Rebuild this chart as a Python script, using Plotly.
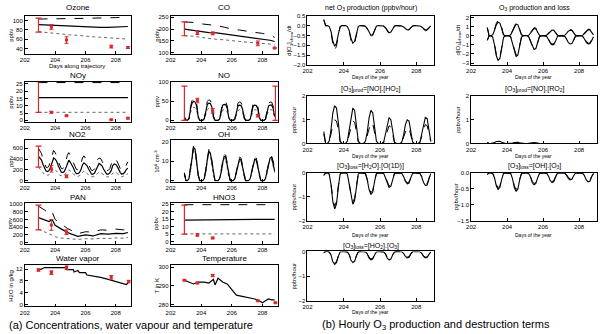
import numpy as np
import plotly.graph_objects as go

W, H = 603, 334
RED = "#d9262b"
GREY = "#666666"

# ---------------- data: concentrations (a) ----------------
t_smooth = [202.9, 203.5, 204.0, 204.5, 205.0, 205.5, 206.0, 206.5, 207.0, 207.5, 208.0, 208.5, 208.8]
o3_mid = [91, 90, 89, 88, 87, 86, 85.5, 85, 85, 85, 85.5, 86, 87]
o3_hi = [103, 103, 103, 103.5, 104, 104, 104.5, 105, 105, 105.5, 106, 107, 108]
o3_lo = [76, 74, 71, 70, 69, 68, 66, 65, 64, 63, 62, 61, 60]
co_mid = [200, 195, 188, 185, 184, 180, 174, 170, 165, 162, 158, 153, 148]
co_hi = [230, 228, 222, 220, 215, 208, 200, 196, 190, 186, 182, 175, 165]
co_lo = [172, 170, 165, 160, 157, 155, 150, 148, 145, 142, 140, 137, 132]
noy_mid = [15.5] * 13
noy_hi = [25.8] * 13
noy_lo = [5.5] * 13
hno3_mid = [14.5, 14.6, 14.6, 14.7, 14.7, 14.8, 14.8, 14.9, 14.9, 15.0, 15.0, 15.0, 15.0]
hno3_hi = [24.8] * 13
hno3_lo = [5.2] * 13

t_pan = [202.9, 203.3, 203.6, 203.8, 204.0, 204.5, 204.8, 205.0, 205.5, 206.0, 206.5, 207.0, 207.5, 208.0, 208.5, 208.8]
pan_mid = [650, 600, 550, 600, 450, 330, 260, 230, 160, 200, 170, 230, 220, 240, 230, 260]
pan_hi = [950, 850, 750, 800, 600, 450, 370, 330, 230, 280, 270, 330, 320, 350, 330, 380]
pan_lo = [350, 280, 220, 200, 150, 110, 100, 100, 80, 100, 90, 110, 100, 120, 110, 130]

t_h2o = [202.9, 203.1, 203.3, 204.7, 204.75, 205.2, 205.25, 205.5, 205.6, 206.0, 206.1, 206.5, 207.0, 207.5, 208.0, 208.5, 208.7, 208.85]
h2o = [11.8, 12.0, 12.5, 12.5, 11.8, 11.8, 11.0, 11.5, 10.8, 10.8, 10.0, 9.7, 9.2, 8.5, 7.8, 7.0, 6.8, 7.5]

t_temp = [202.9, 203.2, 203.5, 203.8, 204.2, 204.5, 204.8, 204.9, 205.1, 205.4, 205.7, 206.0, 206.3, 206.6,
          207.0, 207.5, 207.8, 208.0, 208.2, 208.4, 208.6, 208.8]
temp = [293, 292, 291, 292, 292, 291.5, 293.5, 290.5, 294, 292, 291, 288, 285, 284.5,
        284, 283, 282, 281, 282, 283, 282.5, 282.5]

# diurnal series, sampled every 0.1 day from 202.9 to 208.8
t_d = list(np.round(np.arange(202.9, 208.85, 0.1), 2))
oh_mid = [3.5,
          0, 0, 1, 6, 13, 17, 16, 10, 3, 0,
          0, 0, 1, 5, 11, 15, 14, 9, 3, 0,
          0, 0, 1, 4, 9, 12.5, 12, 8, 2.5, 0,
          0, 0, 1, 4, 8, 11, 10.5, 7, 2, 0,
          0, 0, 1, 4, 8, 11, 10.5, 7, 2, 0,
          0, 0, 1, 4, 8.5, 11.5, 12, 9, 5]
oh_hi = [4,
         0, 0, 1, 7, 14, 18, 17, 11, 3, 0,
         0, 0, 1, 6, 12, 16, 15, 10, 3, 0,
         0, 0, 1, 5, 10, 13.5, 13, 9, 3, 0,
         0, 0, 1, 5, 9, 12, 11.5, 8, 2.5, 0,
         0, 0, 1, 5, 9, 12, 11.5, 8, 2.5, 0,
         0, 0, 1, 5, 9.5, 12.5, 12.5, 10, 6]
oh_lo = [3,
         0, 0, 1, 5, 12, 16, 15, 9, 2.5, 0,
         0, 0, 1, 4.5, 10, 14, 13, 8, 2.5, 0,
         0, 0, 1, 3.5, 8, 11.5, 11, 7, 2, 0,
         0, 0, 1, 3.5, 7.5, 10, 10, 6.5, 2, 0,
         0, 0, 1, 3.5, 7.5, 10, 10, 6.5, 2, 0,
         0, 0, 1, 3.5, 8, 11, 11, 8, 4]
no_mid = [8,
          0, 0, 4, 30, 45, 50, 48, 38, 10, 0,
          0, 0, 4, 28, 42, 45, 44, 34, 9, 0,
          0, 0, 3, 26, 40, 42, 41, 32, 8, 0,
          0, 0, 3, 25, 38, 40, 39, 30, 8, 0,
          0, 0, 3, 25, 38, 40, 39, 30, 8, 0,
          0, 0, 3, 25, 38, 40, 40, 32, 10]
no_hi = [10,
         0, 0, 5, 36, 52, 58, 56, 44, 12, 0,
         0, 0, 5, 34, 50, 54, 52, 40, 11, 0,
         0, 0, 4, 32, 47, 50, 49, 38, 10, 0,
         0, 0, 4, 30, 45, 48, 47, 36, 10, 0,
         0, 0, 4, 30, 45, 48, 47, 36, 10, 0,
         0, 0, 4, 30, 45, 48, 48, 38, 12]
no_lo = [5,
         0, 0, 3, 20, 30, 34, 33, 26, 7, 0,
         0, 0, 3, 19, 28, 31, 30, 23, 6, 0,
         0, 0, 2, 18, 26, 29, 28, 22, 6, 0,
         0, 0, 2, 17, 25, 28, 27, 21, 5, 0,
         0, 0, 2, 17, 25, 28, 27, 21, 5, 0,
         0, 0, 2, 17, 25, 28, 28, 22, 7]
no2_mid = [450,
           420, 380, 300, 220, 180, 170, 190, 250, 350, 420,
           400, 360, 280, 200, 160, 150, 170, 230, 320, 380,
           340, 300, 240, 170, 130, 130, 150, 200, 290, 330,
           310, 280, 220, 160, 120, 120, 140, 200, 280, 320,
           300, 270, 210, 150, 120, 120, 140, 190, 280, 310,
           300, 260, 200, 150, 120, 130, 160, 210, 230]
no2_hi = [600,
          550, 500, 400, 300, 250, 240, 280, 380, 500, 560,
          520, 460, 360, 280, 230, 220, 260, 350, 470, 520,
          460, 400, 320, 250, 210, 200, 230, 310, 420, 460,
          420, 370, 300, 230, 190, 190, 220, 290, 390, 420,
          410, 360, 290, 220, 190, 190, 220, 290, 390, 410,
          400, 350, 280, 220, 190, 200, 240, 300, 350]
no2_lo = [250,
          220, 200, 150, 110, 100, 100, 110, 150, 200, 220,
          200, 180, 140, 100, 90, 90, 100, 140, 180, 200,
          180, 160, 120, 90, 80, 80, 90, 120, 160, 180,
          160, 140, 110, 80, 70, 70, 80, 110, 150, 160,
          150, 130, 100, 80, 70, 70, 80, 100, 140, 150,
          150, 130, 100, 80, 70, 80, 90, 110, 130]

# observations (red)
obs_t = [203.75, 204.75, 207.7, 208.8]
o3_obs = [86, 58, 44, 42]; o3_err = [5, 7, 3, 2]
co_obs = [185, 182, 140, 120]; co_err = [8, 6, 10, 2]
noy_obs = [5.5, 3.2, 0.5, 1.5]; noy_err = [0.6, 0.4, 0.3, 0.5]
no_obs_t = [203.75, 204.75, 207.7]; no_obs = [52, 25, 12]; no_err = [6, 6, 3]
no2_obs_t = [203.75, 204.75]; no2_obs = [220, 80]; no2_err = [60, 25]
pan_obs_t = [203.75, 204.75]; pan_obs = [460, 270]; pan_err = [140, 60]
hno3_obs_t = [203.75, 204.75]; hno3_obs = [4.5, 2.5]; hno3_err = [0.8, 0.5]
h2o_obs_t = [202.9, 203.75, 204.75, 207.7, 208.85]; h2o_obs = [11.7, 10.8, 12.5, 9.2, 7.8]; h2o_err = [0.4, 0.6, 0.6, 0.6, 0.4]
temp_obs_t = [202.9, 203.75, 204.75, 207.7, 208.85]; temp_obs = [293, 291.5, 295.5, 282, 281]; temp_err = [0.3, 0.4, 0.6, 0.3, 0.3]
# initial (and final) ranges: (day, low, high)
o3_init = (202.9, 75, 105)
co_init = (202.9, 172, 230)
noy_init = (202.9, 5.5, 26.4)
no_init = [(202.9, 0, 90), (208.85, 0, 90)]
no2_init = (202.9, 250, 640)
pan_init = (202.9, 330, 980)
hno3_init = (202.9, 5, 24.5)

# ---------------- data: production / loss (b) ----------------
net_mid = [0.3,
           0, 0, -0.05, -0.3, -0.8, -1.05, -0.9, -0.45, -0.05, 0,
           0, 0, -0.05, -0.25, -0.65, -0.9, -0.8, -0.4, -0.05, 0,
           0, 0, -0.03, -0.15, -0.35, -0.5, -0.45, -0.2, -0.03, 0,
           0, 0, -0.02, -0.1, -0.25, -0.37, -0.33, -0.15, -0.02, 0,
           0, 0, -0.02, -0.07, -0.15, -0.22, -0.2, -0.1, -0.02, 0,
           0, 0, -0.02, -0.07, -0.15, -0.22, -0.2, -0.1, -0.02]
net_dash = [0.3,
            0, 0, -0.06, -0.35, -0.95, -1.25, -1.05, -0.5, -0.06, 0,
            0, 0, -0.06, -0.3, -0.75, -1.0, -0.9, -0.45, -0.05, 0,
            0, 0, -0.04, -0.18, -0.4, -0.58, -0.5, -0.22, -0.03, 0,
            0, 0, -0.02, -0.12, -0.28, -0.42, -0.37, -0.17, -0.02, 0,
            0, 0, -0.02, -0.08, -0.18, -0.26, -0.23, -0.11, -0.02, 0,
            0, 0, -0.02, -0.08, -0.18, -0.27, -0.24, -0.12, -0.02]
prod_mid = [0.9,
            0, 0, 0.1, 0.6, 1.2, 1.5, 1.4, 0.8, 0.1, 0,
            0, 0, 0.1, 0.5, 1.0, 1.3, 1.2, 0.7, 0.1, 0,
            0, 0, 0.05, 0.3, 0.6, 0.8, 0.75, 0.4, 0.05, 0,
            0, 0, 0.05, 0.25, 0.5, 0.62, 0.6, 0.35, 0.05, 0,
            0, 0, 0.05, 0.25, 0.5, 0.6, 0.58, 0.33, 0.05, 0,
            0, 0, 0.05, 0.25, 0.5, 0.65, 0.65, 0.4, 0.1]
prod_dash = [0.9,
             0, 0, 0.1, 0.7, 1.35, 1.7, 1.55, 0.9, 0.1, 0,
             0, 0, 0.1, 0.6, 1.15, 1.45, 1.35, 0.8, 0.1, 0,
             0, 0, 0.05, 0.35, 0.7, 0.9, 0.85, 0.45, 0.05, 0,
             0, 0, 0.05, 0.3, 0.55, 0.7, 0.68, 0.4, 0.05, 0,
             0, 0, 0.05, 0.3, 0.55, 0.68, 0.65, 0.38, 0.05, 0,
             0, 0, 0.05, 0.3, 0.55, 0.72, 0.72, 0.45, 0.1]
loss_mid = [-0.5,
            0, 0, -0.15, -1.0, -2.2, -2.7, -2.5, -1.4, -0.2, 0,
            0, 0, -0.12, -0.9, -1.8, -2.3, -2.1, -1.2, -0.15, 0,
            0, 0, -0.1, -0.6, -1.2, -1.5, -1.4, -0.8, -0.1, 0,
            0, 0, -0.07, -0.4, -0.8, -1.0, -0.95, -0.55, -0.07, 0,
            0, 0, -0.06, -0.35, -0.72, -0.9, -0.85, -0.5, -0.06, 0,
            0, 0, -0.06, -0.35, -0.72, -0.9, -0.88, -0.55, -0.1]
loss_dash = [-0.5,
             0, 0, -0.13, -0.9, -2.0, -2.5, -2.3, -1.3, -0.18, 0,
             0, 0, -0.11, -0.8, -1.65, -2.1, -1.95, -1.1, -0.14, 0,
             0, 0, -0.09, -0.55, -1.1, -1.35, -1.28, -0.72, -0.09, 0,
             0, 0, -0.06, -0.36, -0.72, -0.9, -0.86, -0.5, -0.06, 0,
             0, 0, -0.05, -0.32, -0.65, -0.8, -0.77, -0.45, -0.05, 0,
             0, 0, -0.05, -0.32, -0.65, -0.82, -0.8, -0.5, -0.09]
ho2p_mid = [0.5,
            0, 0, 0.1, 0.6, 1.3, 1.6, 1.5, 0.9, 0.1, 0,
            0, 0, 0.1, 0.6, 1.2, 1.5, 1.4, 0.8, 0.1, 0,
            0, 0, 0.1, 0.5, 1.1, 1.4, 1.3, 0.7, 0.1, 0,
            0, 0, 0.05, 0.4, 0.85, 1.1, 1.0, 0.55, 0.05, 0,
            0, 0, 0.05, 0.35, 0.8, 1.0, 0.95, 0.5, 0.05, 0,
            0, 0, 0.05, 0.4, 0.85, 1.1, 1.05, 0.6, 0.1]
ho2p_dash = [0.4,
             0, 0, 0.08, 0.4, 0.8, 1.0, 0.95, 0.6, 0.08, 0,
             0, 0, 0.08, 0.4, 0.75, 0.95, 0.9, 0.55, 0.08, 0,
             0, 0, 0.07, 0.35, 0.7, 0.9, 0.85, 0.5, 0.07, 0,
             0, 0, 0.04, 0.3, 0.6, 0.75, 0.7, 0.4, 0.04, 0,
             0, 0, 0.04, 0.25, 0.55, 0.7, 0.65, 0.35, 0.04, 0,
             0, 0, 0.04, 0.3, 0.6, 0.8, 0.75, 0.45, 0.08]
ro2p_mid = [0.05,
            0, 0, 0.01, 0.04, 0.08, 0.1, 0.09, 0.05, 0.01, 0,
            0, 0, 0.01, 0.02, 0.04, 0.05, 0.05, 0.03, 0.01, 0,
            0, 0, 0, 0.02, 0.03, 0.04, 0.04, 0.02, 0, 0,
            0, 0, 0, 0.01, 0.02, 0.03, 0.03, 0.02, 0, 0,
            0, 0, 0, 0.01, 0.02, 0.02, 0.02, 0.01, 0, 0,
            0, 0, 0, 0.01, 0.02, 0.02, 0.02, 0.01, 0]
h2ol_mid = [-0.1,
            0, 0, -0.05, -0.5, -1.2, -1.5, -1.3, -0.6, -0.05, 0,
            0, 0, -0.05, -0.45, -1.0, -1.3, -1.15, -0.5, -0.05, 0,
            0, 0, -0.03, -0.3, -0.7, -0.9, -0.8, -0.35, -0.03, 0,
            0, 0, -0.02, -0.2, -0.45, -0.6, -0.55, -0.25, -0.02, 0,
            0, 0, -0.02, -0.15, -0.35, -0.45, -0.42, -0.2, -0.02, 0,
            0, 0, -0.02, -0.17, -0.4, -0.52, -0.5, -0.25, -0.03]
h2ol_dash = [-0.1,
             0, 0, -0.05, -0.45, -1.1, -1.38, -1.2, -0.55, -0.05, 0,
             0, 0, -0.05, -0.4, -0.92, -1.2, -1.05, -0.46, -0.05, 0,
             0, 0, -0.03, -0.27, -0.64, -0.82, -0.73, -0.32, -0.03, 0,
             0, 0, -0.02, -0.18, -0.41, -0.55, -0.5, -0.23, -0.02, 0,
             0, 0, -0.02, -0.14, -0.32, -0.41, -0.38, -0.18, -0.02, 0,
             0, 0, -0.02, -0.15, -0.36, -0.47, -0.45, -0.23, -0.03]
ohl_mid = [-0.05,
           0, 0, -0.02, -0.15, -0.4, -0.52, -0.45, -0.2, -0.02, 0,
           0, 0, -0.02, -0.18, -0.45, -0.58, -0.5, -0.22, -0.02, 0,
           0, 0, -0.02, -0.12, -0.3, -0.37, -0.33, -0.15, -0.02, 0,
           0, 0, -0.01, -0.1, -0.24, -0.3, -0.27, -0.12, -0.01, 0,
           0, 0, -0.01, -0.07, -0.17, -0.22, -0.2, -0.09, -0.01, 0,
           0, 0, -0.01, -0.09, -0.22, -0.28, -0.26, -0.12, -0.02]
ohl_dash = [-0.05,
            0, 0, -0.02, -0.13, -0.36, -0.46, -0.4, -0.18, -0.02, 0,
            0, 0, -0.02, -0.16, -0.4, -0.52, -0.45, -0.2, -0.02, 0,
            0, 0, -0.02, -0.11, -0.27, -0.33, -0.3, -0.13, -0.02, 0,
            0, 0, -0.01, -0.09, -0.21, -0.27, -0.24, -0.11, -0.01, 0,
            0, 0, -0.01, -0.06, -0.15, -0.2, -0.18, -0.08, -0.01, 0,
            0, 0, -0.01, -0.08, -0.2, -0.25, -0.23, -0.11, -0.02]
ho2l_mid = [-0.05,
            0, 0, -0.02, -0.15, -0.42, -0.53, -0.46, -0.2, -0.02, 0,
            0, 0, -0.02, -0.13, -0.36, -0.45, -0.4, -0.18, -0.02, 0,
            0, 0, -0.02, -0.1, -0.27, -0.34, -0.31, -0.14, -0.02, 0,
            0, 0, -0.02, -0.1, -0.27, -0.34, -0.31, -0.14, -0.02, 0,
            0, 0, -0.01, -0.08, -0.2, -0.26, -0.24, -0.1, -0.01, 0,
            0, 0, -0.01, -0.08, -0.2, -0.26, -0.25, -0.12, -0.02]
ho2l_dash = [-0.05,
             0, 0, -0.02, -0.13, -0.37, -0.47, -0.41, -0.18, -0.02, 0,
             0, 0, -0.02, -0.12, -0.32, -0.4, -0.36, -0.16, -0.02, 0,
             0, 0, -0.02, -0.09, -0.24, -0.3, -0.28, -0.12, -0.02, 0,
             0, 0, -0.02, -0.09, -0.24, -0.3, -0.28, -0.12, -0.02, 0,
             0, 0, -0.01, -0.07, -0.18, -0.23, -0.21, -0.09, -0.01, 0,
             0, 0, -0.01, -0.07, -0.18, -0.23, -0.22, -0.1, -0.02]

day_ticks = [202, 204, 206, 208]
day_ticktext = ["202", "204", "206", "208"]

# ---------------- figure construction ----------------
fig = go.Figure()
layout = {}
annotations = []
FONT = "Liberation Sans, Arial, sans-serif"


def ann(text, x, y, size=7, angle=0, xanchor="center", yanchor="middle"):
    annotations.append(dict(text=text, x=x / W, y=1 - y / H, xref="paper", yref="paper",
                            showarrow=False, textangle=angle, xanchor=xanchor, yanchor=yanchor,
                            font=dict(size=size, family=FONT, color="black")))


def panel(n, box, yrange, yticks, yticktext=None, title=None, title_y=None, title_size=8,
          ylabel=None, ylabel_x=None, ylabel_size=6):
    x0, x1, y0, y1 = box
    common = dict(showline=True, mirror=True, linecolor="black", linewidth=0.8, ticks="inside",
                  ticklen=3, tickwidth=0.6, tickcolor="black", showgrid=False, zeroline=False,
                  tickfont=dict(size=6, family=FONT, color="black"))
    layout[f"xaxis{n}"] = dict(domain=[x0 / W, x1 / W], anchor=f"y{n}", range=[202, 209],
                               tickvals=day_ticks, ticktext=day_ticktext, **common)
    layout[f"yaxis{n}"] = dict(domain=[1 - y1 / H, 1 - y0 / H], anchor=f"x{n}", range=yrange,
                               tickvals=yticks, ticktext=yticktext if yticktext else [str(v) for v in yticks],
                               **common)
    if title:
        ann(title, (x0 + x1) / 2, title_y, size=title_size)
    if ylabel:
        ann(ylabel, ylabel_x, (y0 + y1) / 2, size=ylabel_size, angle=-90)


def line(n, x, y, style="solid", color="black", width=1.1):
    fig.add_trace(go.Scatter(x=x, y=y, mode="lines", xaxis=f"x{n}", yaxis=f"y{n}",
                             line=dict(color=color, width=width, dash=style), showlegend=False,
                             hoverinfo="skip"))


def trio(n, x, mid, hi, lo):
    line(n, x, lo, "dot", GREY, 1.0)
    line(n, x, hi, "dash", "black", 1.0)
    line(n, x, mid, "solid", "black", 1.2)


def obs(n, x, y, err):
    fig.add_trace(go.Scatter(x=x, y=y, mode="markers", xaxis=f"x{n}", yaxis=f"y{n}",
                             marker=dict(symbol="square", size=3, color=RED),
                             error_y=dict(type="data", array=err, color=RED, thickness=1, width=2),
                             showlegend=False, hoverinfo="skip"))


def rng(n, spec):
    d, lo, hi = spec
    fig.add_trace(go.Scatter(x=[d], y=[(lo + hi) / 2], mode="markers", xaxis=f"x{n}", yaxis=f"y{n}",
                             marker=dict(size=1, color=RED, opacity=0),
                             error_y=dict(type="data", array=[(hi - lo) / 2], color=RED, thickness=1.2, width=3),
                             showlegend=False, hoverinfo="skip"))


LX = (20, 127)
MX = (167, 275)
ROWS_A = [(13, 52), (80, 121), (140, 182), (204, 245), (267, 309)]
TITLE_A = [5, 74, 134, 198, 260]

# (a) panels
panel(1, (*LX, *ROWS_A[0]), [28, 110], [40, 60, 80, 100], title="Ozone", title_y=TITLE_A[0],
      ylabel="ppbv", ylabel_x=6)
trio(1, t_smooth, o3_mid, o3_hi, o3_lo); rng(1, o3_init); obs(1, obs_t, o3_obs, o3_err)

panel(2, (*MX, *ROWS_A[0]), [95, 256], [100, 150, 200, 250], title="CO", title_y=TITLE_A[0],
      ylabel="ppbv", ylabel_x=153)
trio(2, t_smooth, co_mid, co_hi, co_lo); rng(2, co_init); obs(2, obs_t, co_obs, co_err)

panel(3, (*LX, *ROWS_A[1]), [-1, 26.5], [0, 5, 10, 15, 20, 25], title="NOy", title_y=TITLE_A[1],
      ylabel="ppbv", ylabel_x=6)
trio(3, t_smooth, noy_mid, noy_hi, noy_lo); rng(3, noy_init); obs(3, obs_t, noy_obs, noy_err)

panel(4, (*MX, *ROWS_A[1]), [-4, 102], [0, 50, 100], title="NO", title_y=TITLE_A[1],
      ylabel="pptv", ylabel_x=153)
trio(4, t_d, no_mid, no_hi, no_lo)
for s in no_init:
    rng(4, s)
obs(4, no_obs_t, no_obs, no_err)

panel(5, (*LX, *ROWS_A[2]), [-20, 745], [0, 200, 400, 600], title="NO2", title_y=TITLE_A[2],
      ylabel="pptv", ylabel_x=6)
trio(5, t_d, no2_mid, no2_hi, no2_lo); rng(5, no2_init); obs(5, no2_obs_t, no2_obs, no2_err)

panel(6, (*MX, *ROWS_A[2]), [-0.6, 20.5], [0, 10, 20], title="OH", title_y=TITLE_A[2],
      ylabel="10<sup>6</sup> cm<sup>-3</sup>", ylabel_x=153)
trio(6, t_d, oh_mid, oh_hi, oh_lo)

panel(7, (*LX, *ROWS_A[3]), [-30, 1025], [0, 200, 400, 600, 800, 1000], title="PAN", title_y=TITLE_A[3],
      ylabel="pptv", ylabel_x=6)
trio(7, t_pan, pan_mid, pan_hi, pan_lo); rng(7, pan_init); obs(7, pan_obs_t, pan_obs, pan_err)

panel(8, (*MX, *ROWS_A[3]), [-1.3, 25.7], [0, 5, 10, 15, 20, 25], title="HNO3", title_y=TITLE_A[3],
      ylabel="ppbv", ylabel_x=153)
trio(8, t_smooth, hno3_mid, hno3_hi, hno3_lo); rng(8, hno3_init); obs(8, hno3_obs_t, hno3_obs, hno3_err)

panel(9, (*LX, *ROWS_A[4]), [-0.6, 13.3], [0, 4, 8, 12], title="Water vapor", title_y=TITLE_A[4],
      ylabel="H2O in g/kg", ylabel_x=6)
line(9, t_h2o, h2o, "solid", "black", 1.2); obs(9, h2o_obs_t, h2o_obs, h2o_err)

panel(10, (*MX, *ROWS_A[4]), [279, 301], [280, 290, 300], title="Temperature", title_y=TITLE_A[4],
      ylabel="T in K", ylabel_x=153)
line(10, t_temp, temp, "solid", "black", 1.2); obs(10, temp_obs_t, temp_obs, temp_err)

ann("Days along trajectory", 73, 64, size=6)

# (b) panels
BM = (305, 433)
BR = (470, 597)
ROWS_B = [(13, 63), (95, 143), (173, 222), (253, 303)]
TITLE_B = [5, 88, 166, 247]


def pair(n, mid, dash):
    line(n, t_d, dash, "dash", "black", 1.0)
    line(n, t_d, mid, "solid", "black", 1.1)


panel(11, (*BM, *ROWS_B[0]), [-2.0, 0.5], [0.5, 0, -0.5, -1, -1.5, -2],
      ["0.5", "0.0", "\u22120.5", "\u22121.0", "\u22121.5", "\u22122.0"],
      title="net O<sub>3</sub> production (ppbv/hour)", title_y=TITLE_B[0], title_size=7,
      ylabel="d[O<sub>3</sub>]<sub>chem</sub>/dt", ylabel_x=287)
pair(11, net_mid, net_dash)

panel(12, (*BR, *ROWS_B[0]), [-3.2, 2.2], [2, 1, 0, -1, -2, -3],
      ["2", "1", "0", "\u22121", "\u22122", "\u22123"],
      title="O<sub>3</sub> production and loss", title_y=TITLE_B[0], title_size=7,
      ylabel="d[O<sub>3</sub>]<sub>chem</sub>/dt", ylabel_x=457)
pair(12, prod_mid, prod_dash)
pair(12, loss_mid, loss_dash)

panel(13, (*BM, *ROWS_B[1]), [0, 2], [0, 1, 2],
      title="[O<sub>3</sub>]<sub>prod</sub>=[NO].[HO<sub>2</sub>]", title_y=TITLE_B[1], title_size=7,
      ylabel="ppbv/hour", ylabel_x=291)
pair(13, ho2p_mid, ho2p_dash)

panel(14, (*BR, *ROWS_B[1]), [0, 2], [0, 1, 2],
      title="[O<sub>3</sub>]<sub>prod</sub>=[NO].[RO<sub>2</sub>]", title_y=TITLE_B[1], title_size=7,
      ylabel="ppbv/hour", ylabel_x=457)
line(14, t_d, ro2p_mid, "solid", "black", 1.1)

panel(15, (*BM, *ROWS_B[2]), [-2, 0], [0, -1, -2], ["0", "\u22121", "\u22122"],
      title="[O<sub>3</sub>]<sub>loss</sub>=[H<sub>2</sub>O].[O(1D)]", title_y=TITLE_B[2], title_size=7,
      ylabel="ppbv/hour", ylabel_x=291)
pair(15, h2ol_mid, h2ol_dash)

panel(16, (*BR, *ROWS_B[2]), [-1.5, 0], [0, -0.5, -1, -1.5], ["0.0", "\u22120.5", "\u22121.0", "\u22121.5"],
      title="[O<sub>3</sub>]<sub>loss</sub>=[OH].[O<sub>3</sub>]", title_y=TITLE_B[2], title_size=7,
      ylabel="ppbv/hour", ylabel_x=455)
pair(16, ohl_mid, ohl_dash)

panel(17, (*BM, *ROWS_B[3]), [-2, 0], [0, -1, -2], ["0", "\u22121", "\u22122"],
      title="[O<sub>3</sub>]<sub>loss</sub>=[HO<sub>2</sub>].[O<sub>3</sub>]", title_y=TITLE_B[3], title_size=7,
      ylabel="ppbv/hour", ylabel_x=291)
pair(17, ho2l_mid, ho2l_dash)

for (xc, yy) in [(369, 75), (533, 75), (369, 156), (533, 156), (369, 236), (533, 236), (369, 315)]:
    ann("Days of the year", xc, yy, size=5)

ann("(a) Concentrations, water vapour and temperature", 2, 328, size=11, xanchor="left")
ann("(b) Hourly O<sub>3</sub> production and destruction terms", 318, 328, size=11, xanchor="left")

fig.update_layout(width=W, height=H, margin=dict(l=0, r=0, t=0, b=0), paper_bgcolor="white",
                  plot_bgcolor="white", showlegend=False, annotations=annotations, **layout)
fig.write_html("out.html")
